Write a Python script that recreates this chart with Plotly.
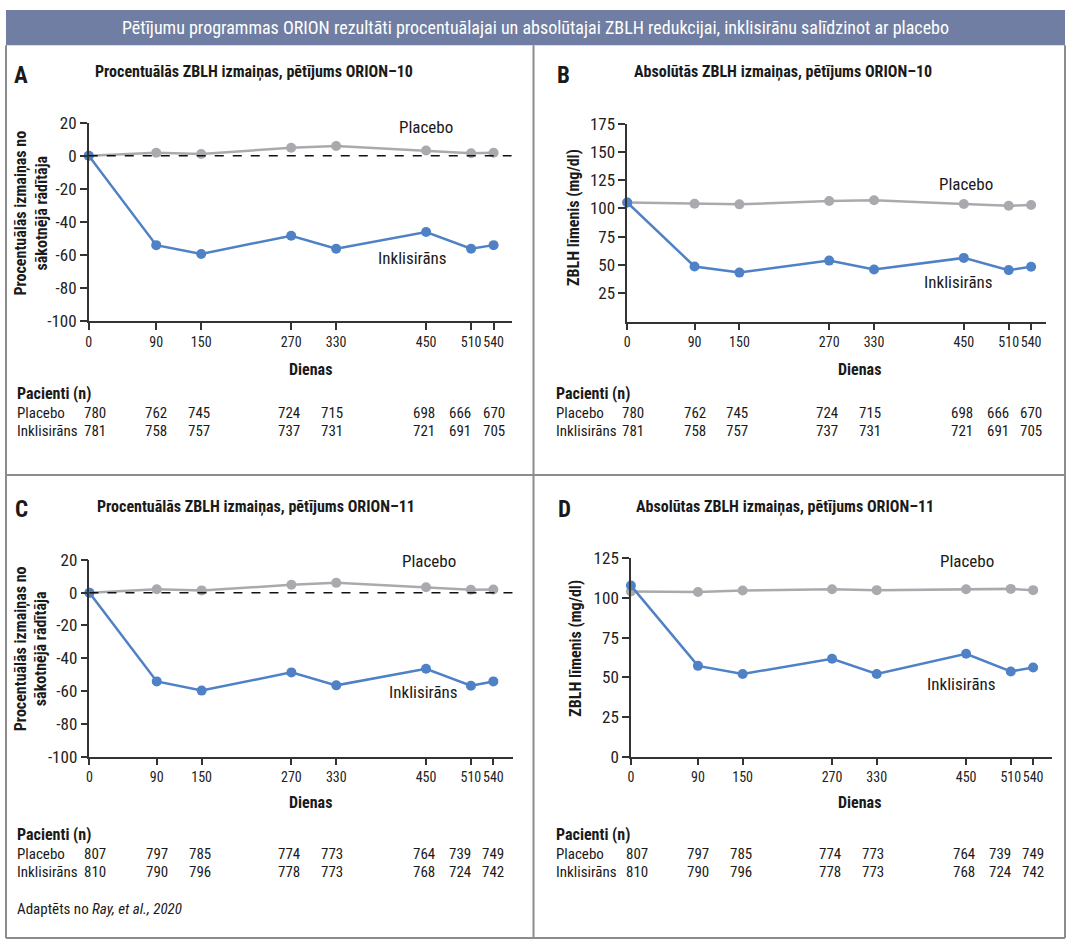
import plotly.graph_objects as go

# ---------------- data ----------------
days = [0, 90, 150, 270, 330, 450, 510, 540]
day_ticks = [0, 90, 150, 270, 330, 450, 510, 540]

# Panel A: ORION-10 percent change
a_placebo = [0, 1.8, 1.0, 4.8, 5.9, 3.1, 1.5, 1.8]
a_inklis = [0, -54.0, -59.3, -48.3, -56.2, -46.1, -56.2, -54.0]
# Panel B: ORION-10 absolute LDL-C (mg/dl)
b_placebo = [105.3, 104.2, 103.6, 106.5, 107.3, 103.9, 102.4, 103.0]
b_inklis = [105.3, 48.7, 43.3, 53.9, 46.1, 56.3, 45.5, 48.5]
# Panel C: ORION-11 percent change
c_placebo = [0, 2.1, 1.4, 4.8, 6.0, 3.3, 1.8, 2.0]
c_inklis = [0, -54.1, -59.7, -48.6, -56.5, -46.4, -56.7, -54.1]
# Panel D: ORION-11 absolute LDL-C (mg/dl)
d_placebo = [104.0, 103.7, 104.7, 105.5, 104.9, 105.5, 105.7, 104.9]
d_inklis = [107.8, 57.2, 52.1, 61.7, 52.1, 64.8, 53.7, 56.2]

# Patients at risk
n10_placebo = [780, 762, 745, 724, 715, 698, 666, 670]
n10_inklis = [781, 758, 757, 737, 731, 721, 691, 705]
n11_placebo = [807, 797, 785, 774, 773, 764, 739, 749]
n11_inklis = [810, 790, 796, 778, 773, 768, 724, 742]

pct_ticks = [20, 0, -20, -40, -60, -80, -100]
abs10_ticks = [25, 50, 75, 100, 125, 150, 175]
abs11_ticks = [0, 25, 50, 75, 100, 125]

main_title = "Pētījumu programmas ORION rezultāti procentuālajai un absolūtajai ZBLH redukcijai, inklisirānu salīdzinot ar placebo"
panel_titles = {
    "A": "Procentuālās ZBLH izmaiņas, pētījums ORION–10",
    "B": "Absolūtās ZBLH izmaiņas, pētījums ORION–10",
    "C": "Procentuālās ZBLH izmaiņas, pētījums ORION–11",
    "D": "Absolūtas ZBLH izmaiņas, pētījums ORION–11",
}
pct_ytitle = "Procentuālās izmaiņas no<br>sākotnējā rādītāja"
abs_ytitle = "ZBLH līmenis (mg/dl)"
x_title = "Dienas"
lbl_placebo = "Placebo"
lbl_inklis = "Inklisirāns"

# ---------------- styling ----------------
W, H = 1069, 952
FONT = "Liberation Sans Narrow, Roboto Condensed, DejaVu Sans Condensed, Arial Narrow, sans-serif"
BLUE = "#4F81C6"
GRAY = "#A8AAAD"
AXC = "#333333"
BORDER = "#8C8C8C"
BAR = "#6F7EA2"


def PX(x):
    return x / W


def PY(y):
    return 1 - y / H


fig = go.Figure()

panels = [
    ("A", "x", "y", (86, 510), (115, 318), 564, [-100, 20], pct_ticks, a_placebo, a_inklis),
    ("B", "x2", "y2", (626, 1046), (116, 318.3), 560, [0, 175], abs10_ticks, b_placebo, b_inklis),
    ("C", "x3", "y3", (86.7, 511), (561.7, 762.7), 565.7, [-100, 20], pct_ticks, c_placebo, c_inklis),
    ("D", "x4", "y4", (629.7, 1052), (560, 762.7), 565.4, [0, 125], abs11_ticks, d_placebo, d_inklis),
]

layout_axes = {}
for key, xa, ya, xd, yd, xmax, yr, yt, pl, ik in panels:
    fig.add_trace(go.Scatter(x=days, y=pl, mode="lines+markers", xaxis=xa, yaxis=ya,
                             line=dict(color=GRAY, width=2.5), marker=dict(color=GRAY, size=10),
                             showlegend=False, cliponaxis=False, hoverinfo="skip"))
    fig.add_trace(go.Scatter(x=days, y=ik, mode="lines+markers", xaxis=xa, yaxis=ya,
                             line=dict(color=BLUE, width=2.5), marker=dict(color=BLUE, size=10),
                             showlegend=False, cliponaxis=False, hoverinfo="skip"))
    xname = "xaxis" + xa[1:]
    yname = "yaxis" + ya[1:]
    layout_axes[xname] = dict(
        domain=[PX(xd[0]), PX(xd[1])], range=[0, xmax], anchor=ya,
        tickvals=day_ticks, ticktext=[str(t) for t in day_ticks], tickangle=0,
        ticks="outside", ticklen=7, tickwidth=1.5, tickcolor=AXC,
        showline=True, linecolor=AXC, linewidth=1.5, showgrid=False, zeroline=False,
        tickfont=dict(family=FONT, size=14, color="#222"),
    )
    layout_axes[yname] = dict(
        domain=[PY(yd[1]), PY(yd[0])], range=yr, anchor=xa,
        tickvals=yt, ticktext=[str(t) for t in yt],
        ticks="outside", ticklen=7, tickwidth=1.5, tickcolor=AXC,
        showline=True, linecolor=AXC, linewidth=1.5, showgrid=False, zeroline=False,
        tickfont=dict(family=FONT, size=17, color="#222"),
    )

fig.update_layout(**layout_axes)

shapes = []
for xa, ya in [("x", "y"), ("x3", "y3")]:
    shapes.append(dict(type="line", xref=xa + " domain", yref=ya, x0=0, x1=1, y0=0, y1=0,
                       line=dict(color="#111", width=1.5, dash="dash")))
shapes.append(dict(type="rect", xref="paper", yref="paper", x0=PX(3), x1=PX(1065), y0=PY(36), y1=PY(0),
                   fillcolor=BAR, line=dict(width=0), layer="below"))
for (x0, y0, x1, y1) in [(3, 36, 3, 948), (1065, 36, 1065, 948), (3, 948, 1065, 948),
                         (532, 36, 532, 948), (3, 475, 1065, 475)]:
    shapes.append(dict(type="line", xref="paper", yref="paper", x0=PX(x0), x1=PX(x1), y0=PY(y0), y1=PY(y1),
                       line=dict(color=BORDER, width=2)))

ann = []


def text(x, y, s, size=15, bold=False, xanchor="left", color="#1a1a1a", angle=0, xref="paper", xshift=0):
    t = f"<b>{s}</b>" if bold else s
    ann.append(dict(x=x if xref != "paper" else PX(x), y=PY(y), xref=xref, yref="paper", text=t,
                    showarrow=False, xanchor=xanchor, yanchor="middle", textangle=angle, xshift=xshift,
                    font=dict(family=FONT, size=size, color=color)))


text(534, 18, main_title, size=18, xanchor="center", color="white")

letters = {"A": (18, 67, 90, 63), "B": (562, 67, 631, 63), "C": (19, 510, 92, 507), "D": (563, 510, 633, 507)}
for k, (lx, ly, tx, ty) in letters.items():
    text(lx, ly, k, size=23, bold=True, xanchor="center")
    text(tx, ty, panel_titles[k], size=16, bold=True)

text(28, 207, pct_ytitle, size=16, bold=True, xanchor="center", angle=-90)
text(28, 652, pct_ytitle, size=16, bold=True, xanchor="center", angle=-90)
text(572, 212, abs_ytitle, size=16, bold=True, xanchor="center", angle=-90)
text(574, 652, abs_ytitle, size=16, bold=True, xanchor="center", angle=-90)

for xc, yc in [(308, 367), (859, 367), (308, 810), (859, 810)]:
    text(xc, yc, x_title, size=16, bold=True, xanchor="center")

for (px_, py_, s) in [(424, 120, lbl_placebo), (411, 253, lbl_inklis),
                      (966, 178, lbl_placebo), (958, 278, lbl_inklis),
                      (427, 563, lbl_placebo), (422, 697, lbl_inklis),
                      (967, 563, lbl_placebo), (961, 688, lbl_inklis)]:
    text(px_, py_, s, size=17, xanchor="center")

shifts = [6, 0, -2, -2, -4, -2, -11, 0]
tables = [
    ("x", 12, 392, 412, 430, n10_placebo, n10_inklis),
    ("x2", 553, 392, 412, 430, n10_placebo, n10_inklis),
    ("x3", 12, 842, 862, 880, n11_placebo, n11_inklis),
    ("x4", 553, 842, 862, 880, n11_placebo, n11_inklis),
]
for xa, lx, yh, yp, yi, npl, nik in tables:
    text(lx, yh, "Pacienti (n)", size=16, bold=True)
    text(lx, yp, lbl_placebo, size=15)
    text(lx, yi, lbl_inklis, size=15)
    for d, vp, vi, sh in zip(days, npl, nik, shifts):
        text(d, yp, str(vp), size=15, xanchor="center", xref=xa, xshift=sh)
        text(d, yi, str(vi), size=15, xanchor="center", xref=xa, xshift=sh)

text(12, 918, "Adaptēts no <i>Ray, et al., 2020</i>", size=15)

fig.update_layout(
    width=W, height=H, margin=dict(l=0, r=0, t=0, b=0),
    paper_bgcolor="white", plot_bgcolor="rgba(0,0,0,0)",
    shapes=shapes, annotations=ann, showlegend=False,
    font=dict(family=FONT, color="#222"),
)

fig.write_html("out.html", config={"displayModeBar": False},
               post_script="document.documentElement.style.margin='0';document.body.style.margin='0';")
